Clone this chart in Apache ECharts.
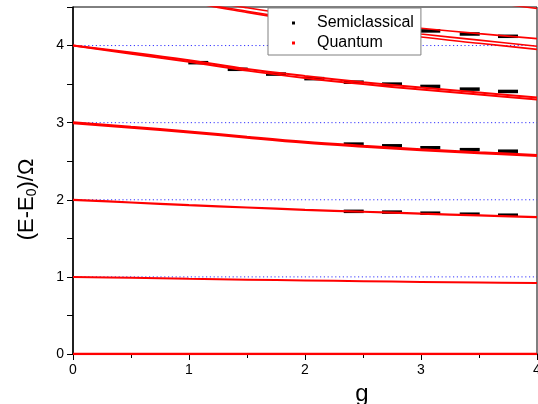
<!DOCTYPE html>
<html><head><meta charset="utf-8">
<script src="https://cdn.jsdelivr.net/npm/echarts@6/dist/echarts.min.js"></script>
<style>html,body{margin:0;padding:0;background:#fff}#c{width:538px;height:404px}</style>
</head><body><div id="c"></div>
<script>
// coupling g grid for quantum curves
var gQ = [0, 0.5, 1, 1.5, 2, 2.5, 3, 3.5, 4];
// quantum levels (E-E0)/Omega
var q0  = [0, 0, 0, 0, 0, 0, 0, 0, 0];
var q1  = [1, 0.988, 0.975, 0.964, 0.954, 0.944, 0.935, 0.927, 0.92];
var q2  = [2, 1.965, 1.93, 1.90, 1.87, 1.845, 1.82, 1.797, 1.775];
var q3  = [3, 2.94, 2.88, 2.81, 2.745, 2.695, 2.65, 2.61, 2.575];
var q4a = [4, 3.91, 3.81, 3.695, 3.605, 3.525, 3.455, 3.39, 3.325];
var q4b = [4, 3.895, 3.79, 3.675, 3.58, 3.50, 3.43, 3.365, 3.30];
var q5a = [5, 4.79, 4.62, 4.49, 4.38, 4.30, 4.225, 4.155, 4.09];
var q5b = [5, 4.79, 4.58, 4.445, 4.33, 4.235, 4.15, 4.07, 3.99];
var q5c = [5, 4.78, 4.57, 4.43, 4.31, 4.205, 4.11, 4.03, 3.95];
var q6  = [6, 5.6, 5.3, 5.1, 4.93, 4.8, 4.68, 4.58, 4.48];
// semiclassical points (where readable)
var gS2 = [2.42, 2.75, 3.08, 3.42, 3.75];
var s2  = [1.85, 1.84, 1.826, 1.813, 1.80];
var gS3 = [2.42, 2.75, 3.08, 3.42, 3.75];
var s3  = [2.722, 2.70, 2.675, 2.65, 2.63];
var gS4 = [1.08, 1.42, 1.75, 2.08, 2.42, 2.75, 3.08, 3.42, 3.75];
var s4  = [3.778, 3.692, 3.63, 3.571, 3.525, 3.50, 3.47, 3.435, 3.405];
var gS5 = [2.75, 3.08, 3.42, 3.75];
var s5  = [4.23, 4.19, 4.15, 4.12];
// reference (unperturbed) levels drawn dotted
var refLevels = [1, 2, 3, 4];

var FONT = 'Liberation Sans, Arial, sans-serif';
function pairs(xs, ys) { return xs.map(function (x, i) { return [x, ys[i]]; }); }

var quantum = [
  {d: q0, w: 2.5}, {d: q1, w: 2}, {d: q2, w: 2.2}, {d: q3, w: 3},
  {d: q4a, w: 2}, {d: q4b, w: 2}, {d: q5a, w: 1.6}, {d: q5b, w: 1.6},
  {d: q5c, w: 1.6}, {d: q6, w: 1.6}
];
var series = [];
refLevels.forEach(function (v) {
  series.push({
    name: 'ref' + v, type: 'line', data: [[0, v], [4, v]], showSymbol: false, symbol: 'none',
    silent: true, z: 1, lineStyle: {color: '#3535ff', type: [1.2, 2.6], width: 1}
  });
});
var semi = pairs(gS2, s2).concat(pairs(gS3, s3), pairs(gS4, s4), pairs(gS5, s5));
series.push({
  name: 'Semiclassical', type: 'scatter', data: semi, symbol: 'rect',
  symbolSize: [20, 3.5], itemStyle: {color: '#000', opacity: 1}, z: 2, clip: true, silent: true
});
quantum.forEach(function (q) {
  series.push({
    name: 'Quantum', type: 'line', data: pairs(gQ, q.d), smooth: 0.35,
    showSymbol: false, symbol: 'none', clip: true, silent: true,
    lineStyle: {color: '#ff0000', width: q.w}, itemStyle: {color: '#ff0000'}, z: 3
  });
});

var chart = echarts.init(document.getElementById('c'), null, {renderer: 'canvas'});
chart.setOption({
  animation: false,
  backgroundColor: '#fff',
  textStyle: {fontFamily: FONT},
  grid: {left: 73, right: 1, top: 7, bottom: 50, show: true, borderColor: '#000', borderWidth: 1,
         backgroundColor: 'transparent', containLabel: false, outerBoundsMode: 'none'},
  legend: {
    orient: 'vertical', left: 268, top: 8, padding: [6, 7, 3, 24], itemGap: 2,
    itemWidth: 3, itemHeight: 3, selectedMode: false, z: 10,
    backgroundColor: '#fff', borderColor: '#808080', borderWidth: 1,
    textStyle: {fontSize: 16, color: '#000', fontFamily: FONT, lineHeight: 18, padding: [0, 0, 0, 17]},
    data: [{name: 'Semiclassical', icon: 'rect'}, {name: 'Quantum', icon: 'rect'}]
  },
  xAxis: {
    type: 'value', min: 0, max: 4, interval: 1,
    axisLine: {lineStyle: {color: '#000', width: 1.5}},
    axisTick: {length: 6, lineStyle: {color: '#000'}},
    minorTick: {show: true, splitNumber: 2, length: 4, lineStyle: {color: '#000'}},
    splitLine: {show: false}, minorSplitLine: {show: false},
    axisLabel: {fontSize: 14, color: '#000', margin: 9, fontFamily: FONT},
    name: 'g', nameLocation: 'middle', nameGap: 16,
    nameTextStyle: {fontSize: 24, color: '#000', fontFamily: FONT, padding: [0, 0, 0, 114]}
  },
  yAxis: {
    type: 'value', min: 0, max: 4.5, interval: 0.5,
    axisLine: {lineStyle: {color: '#000', width: 1.5}},
    axisTick: {length: 6, lineStyle: {color: '#000'}},
    splitLine: {show: false},
    axisLabel: {fontSize: 14, color: '#000', margin: 9, fontFamily: FONT,
      formatter: function (v) { return Number.isInteger(v) ? String(v) : ''; }},
    name: '(E-E{sub|0})/Ω', nameLocation: 'middle', nameGap: 34, nameRotate: 90,
    nameTextStyle: {fontSize: 22, color: '#000', fontFamily: FONT, padding: [0, 38, 0, 0],
      rich: {sub: {fontSize: 14, color: '#000', fontFamily: FONT, padding: [10, 0, 0, 0]}}}
  },
  series: series
});
</script></body></html>
